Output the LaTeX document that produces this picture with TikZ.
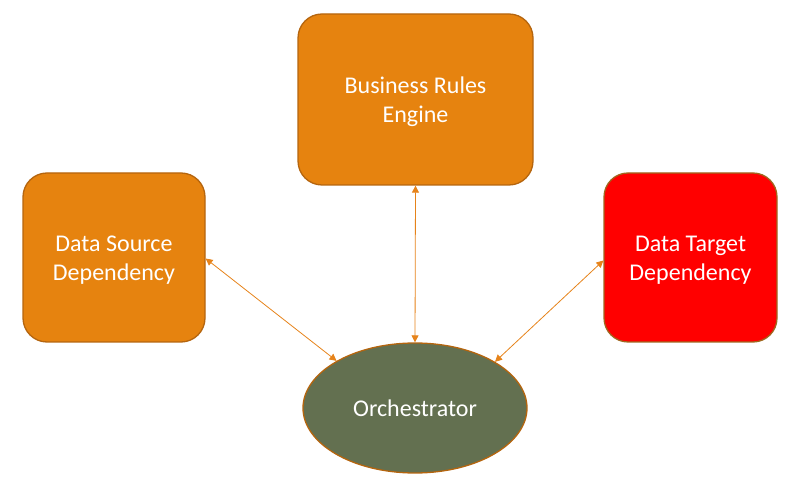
\documentclass[tikz,border=0pt]{standalone}
\usepackage{fontspec}
\setmainfont{Carlito}
\usetikzlibrary{shapes.geometric,arrows.meta}
\definecolor{boxorange}{HTML}{E6830F}
\definecolor{boxedge}{HTML}{B5650E}
\definecolor{redfill}{HTML}{FF0000}
\definecolor{rededge}{HTML}{A0661E}
\definecolor{orchfill}{HTML}{637050}
\definecolor{linkcol}{HTML}{E6831A}
\newcommand{\twolines}[2]{\raisebox{-3pt}[\height][\depth]{\begin{tabular}{@{}c@{}}#1\\#2\end{tabular}}}
\tikzset{
  rbox/.style={draw=boxedge, fill=boxorange, line width=1.3pt, rounded corners=24pt,
    inner sep=0pt, align=center, text=white, font=\fontsize{24}{29}\selectfont},
  link/.style={draw=linkcol, line width=0.8pt, {Triangle[length=7pt,width=7pt]}-{Triangle[length=7pt,width=7pt]}}
}
\begin{document}
\begin{tikzpicture}[x=1pt,y=1pt]
\useasboundingbox (0,0) rectangle (800,487);
\node[rbox, minimum width=235pt, minimum height=171pt] (bre) at (415.5,387.5) {\twolines{Business Rules}{Engine}};
\node[rbox, minimum width=182pt, minimum height=169pt] (ds) at (114,229.5) {\twolines{Data Source}{Dependency}};
\node[rbox, fill=redfill, draw=rededge, minimum width=173pt, minimum height=169pt] (dt) at (690.5,229.5) {\twolines{Data Target}{Dependency}};
\node[ellipse, draw=boxedge, fill=orchfill, line width=1.3pt, minimum width=224pt, minimum height=130pt,
  inner sep=0pt, text=white, font=\fontsize{24}{29}\selectfont] (orch) at (415,79) {Orchestrator};
\draw[link] ([yshift=-1pt]ds.east) -- (orch.149);
\draw[link] ([yshift=-3pt]dt.west) -- (orch.30);
\draw[link] (bre.south) -- (orch.north);
\end{tikzpicture}
\end{document}
